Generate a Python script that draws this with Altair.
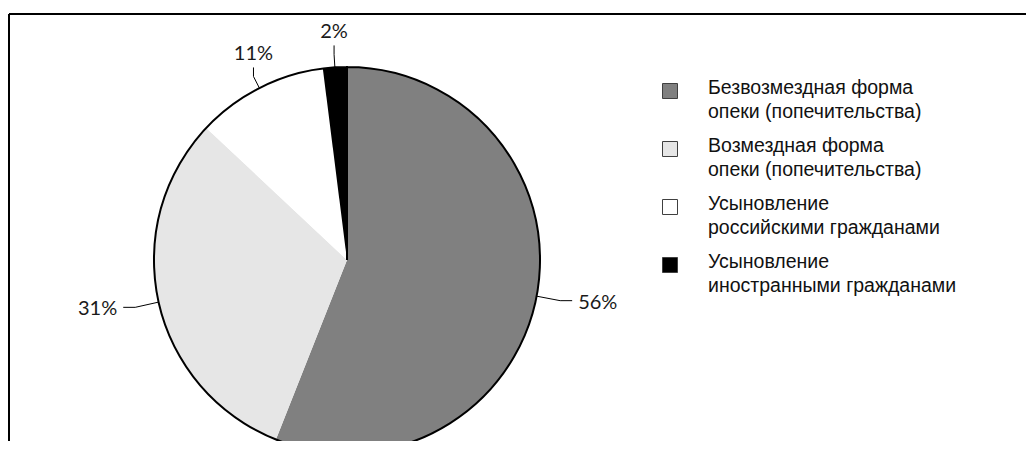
import altair as alt
import pandas as pd

# ---- data ----
categories = [
    "Безвозмездная форма опеки (попечительства)",
    "Возмездная форма опеки (попечительства)",
    "Усыновление российскими гражданами",
    "Усыновление иностранными гражданами",
]
legend_lines = [
    "Безвозмездная форма\nопеки (попечительства)",
    "Возмездная форма\nопеки (попечительства)",
    "Усыновление\nроссийскими гражданами",
    "Усыновление\nиностранными гражданами",
]
values = [56, 31, 11, 2]
colors = ["#808080", "#e6e6e6", "#ffffff", "#000000"]

df = pd.DataFrame({
    "idx": list(range(len(categories))),
    "category": categories,
    "legend": legend_lines,
    "value": values,
    "label": [f"{v}%" for v in values],
})

# ---- layout ----
W, H = 1017, 427
CX, CY, R = 338, 246, 193
L1H, L2H = 24, 12   # leader lengths for side labels
L1V, L2V = 13, 9    # leader lengths for top/bottom labels
LEG_X, LEG_Y0, LEG_DY = 661, 77, 58
LABEL_FONT = "Lato"
LEGEND_FONT = "Liberation Sans"

color_scale = alt.Scale(domain=categories, range=colors)

base = alt.Chart(df)

pie = base.mark_arc(outerRadius=R, stroke=None).encode(
    theta=alt.Theta("value:Q", stack=True),
    color=alt.Color("category:N", scale=color_scale, legend=None),
    order=alt.Order("idx:Q"),
    x=alt.value(CX),
    y=alt.value(CY),
)

outline = alt.Chart(pd.DataFrame({"k": [0]})).mark_arc(
    outerRadius=R, fill=None, filled=False, stroke="black", strokeWidth=2
).encode(theta=alt.value(0), theta2=alt.value(6.28318), x=alt.value(CX), y=alt.value(CY))

geo = base.transform_window(
    cum="sum(value)", sort=[alt.SortField("idx")], frame=[None, 0]
).transform_joinaggregate(total="sum(value)").transform_calculate(
    mid="2*PI*(datum.cum - datum.value/2)/datum.total"
).transform_calculate(
    s="sin(datum.mid)", c="cos(datum.mid)"
).transform_calculate(
    horiz="abs(datum.s) >= abs(datum.c)"
).transform_calculate(
    l1=f"datum.horiz ? {L1H} : {L1V}",
    l2=f"datum.horiz ? {L2H} : {L2V}",
).transform_calculate(
    ex=f"{CX} + {R}*datum.s",
    ey=f"{CY} - {R}*datum.c",
    bx=f"{CX} + ({R} + datum.l1)*datum.s",
    by=f"{CY} - ({R} + datum.l1)*datum.c",
).transform_calculate(
    tx="datum.horiz ? datum.bx + datum.l2*(datum.s > 0 ? 1 : -1) : datum.bx",
    ty="datum.horiz ? datum.by : datum.by - datum.l2*(datum.c > 0 ? 1 : -1)",
    side="datum.horiz ? (datum.s > 0 ? 'right' : 'left') : (datum.c > 0 ? 'top' : 'bottom')",
).transform_calculate(
    lx="datum.horiz ? datum.tx + 6*(datum.s > 0 ? 1 : -1) : datum.tx",
    ly="datum.horiz ? datum.ty + 2 : datum.ty - 3*(datum.c > 0 ? 1 : -1)",
)

lead1 = geo.mark_rule(color="black", strokeWidth=1).encode(
    x=alt.X("ex:Q", scale=None), y=alt.Y("ey:Q", scale=None),
    x2="bx:Q", y2="by:Q",
)
lead2 = geo.mark_rule(color="black", strokeWidth=1).encode(
    x=alt.X("bx:Q", scale=None), y=alt.Y("by:Q", scale=None),
    x2="tx:Q", y2="ty:Q",
)

def label_layer(side, align, baseline):
    return geo.transform_filter(f"datum.side == '{side}'").mark_text(
        align=align, baseline=baseline, font=LABEL_FONT, fontSize=20, color="#1a1a1a"
    ).encode(
        x=alt.X("lx:Q", scale=None), y=alt.Y("ly:Q", scale=None), text="label:N"
    )

labels = (
    label_layer("right", "left", "middle")
    + label_layer("left", "right", "middle")
    + label_layer("top", "center", "bottom")
    + label_layer("bottom", "center", "top")
)

leg = base.transform_calculate(
    ly=f"{LEG_Y0} + datum.idx*{LEG_DY}"
)
leg_sq = leg.mark_square(size=225, opacity=1, stroke="#404040", strokeWidth=1).encode(
    x=alt.value(LEG_X),
    y=alt.Y("ly:Q", scale=None),
    fill=alt.Color("category:N", scale=color_scale, legend=None),
)
leg_txt = leg.transform_calculate(ty="datum.ly - 12").mark_text(
    align="left", baseline="top", font=LEGEND_FONT, fontSize=19.5, lineHeight=24,
    lineBreak="\n", color="#111111",
).encode(
    x=alt.value(LEG_X + 38),
    y=alt.Y("ty:Q", scale=None),
    text="legend:N",
)

frame_top = alt.Chart(pd.DataFrame({"k": [0]})).mark_rule(color="black", strokeWidth=2).encode(
    x=alt.value(0), x2=alt.value(W), y=alt.value(0)
)
frame_left = alt.Chart(pd.DataFrame({"k": [0]})).mark_rule(color="black", strokeWidth=2).encode(
    x=alt.value(0), y=alt.value(0), y2=alt.value(H)
)

chart = alt.layer(
    pie, outline, lead1, lead2, labels, leg_sq, leg_txt, frame_top, frame_left
).properties(
    width=W, height=H,
    padding={"left": 1, "top": 6, "right": 0, "bottom": 0},
    autosize=alt.AutoSizeParams(type="none"),
    background="white",
).configure_view(stroke=None)

chart.save("out.html", embed_options={"renderer": "svg", "actions": False})
